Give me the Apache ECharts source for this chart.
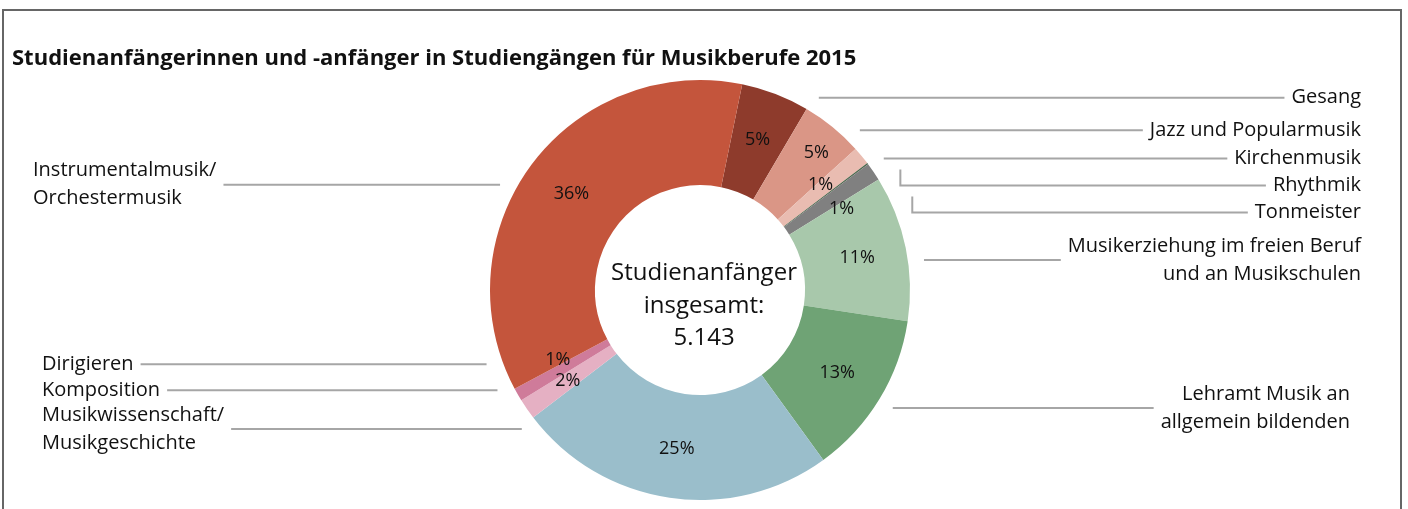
<!DOCTYPE html>
<html lang="de">
<head>
<meta charset="UTF-8">
<title>Studienanfänger Musikberufe 2015</title>
<script src="https://cdn.jsdelivr.net/npm/echarts@6/dist/echarts.min.js"></script>
<style>
    body { margin: 0; background: #fff; }
    #mybox { position: absolute; left: 0; top: 0; width: 1408px; height: 509px; }
    #rahmen { position: absolute; left: 2px; top: 9px; width: 1400px; height: 560px;
              border: 2px solid #666; box-sizing: border-box; pointer-events: none; }
</style>
</head>
<body>
<div id="mybox"></div>
<div id="rahmen"></div>
<script>
    // Daten: Studienanfänger nach Studienbereich (im Uhrzeigersinn ab Gesang)
    var kategorien = [
        'Gesang',
        'Jazz und Popularmusik',
        'Kirchenmusik',
        'Rhythmik',
        'Tonmeister',
        'Musikerziehung im freien Beruf\nund an Musikschulen',
        'Lehramt Musik an\nallgemein bildenden',
        'Musikwissenschaft/\nMusikgeschichte',
        'Komposition',
        'Dirigieren',
        'Instrumentalmusik/\nOrchestermusik'
    ];
    var anzahl = [270, 247, 72, 5, 72, 576, 650, 1265, 82, 52, 1852];
    var gesamt = '5.143';

    var farben = ['#8e3b2c', '#da9686', '#e9bcb1', '#4d684d', '#808080', '#a8c8ab',
                  '#6fa375', '#9abecb', '#e5b0c3', '#cf7b9a', '#c4553c'];

    // Feinabstimmung der Beschriftungen (wie im Original von Hand gesetzt)
    var randAbstand = { 6: 58, 7: 42, 8: 42, 9: 42, 10: 33 };
    var versatzAussen = { 5: 5, 6: 11, 8: 26, 9: 27, 10: 18 };
    var versatzInnen = { 1: [15, -13], 2: [-3, -3], 4: [9, 9], 9: [-3, -10] };

    var schrift = '"Open Sans", sans-serif';
    var mitte = [700, 290];
    var linienRadius = 226;

    var mychart = echarts.init(document.getElementById('mybox'));

    mychart.setOption({
        animation: false,
        title: {
            text: 'Studienanfängerinnen und -anfänger in Studiengängen für Musikberufe 2015',
            left: 12,
            top: 48,
            padding: 0,
            textStyle: { fontSize: 22, fontWeight: 'bold', color: '#111', fontFamily: schrift }
        },
        graphic: [{
            type: 'text',
            x: mitte[0] + 4,
            y: 306,
            style: {
                text: 'Studienanfänger\ninsgesamt:\n' + gesamt,
                textAlign: 'center',
                textVerticalAlign: 'middle',
                fontSize: 24,
                lineHeight: 32.5,
                fontFamily: schrift,
                fill: '#111'
            }
        }],
        series: [{
            // Ring mit Prozentwerten
            name: 'Anteil',
            type: 'pie',
            radius: [105, 210],
            center: mitte,
            startAngle: 78.4,
            clockwise: true,
            silent: true,
            avoidLabelOverlap: false,
            minShowLabelAngle: 0,
            itemStyle: { borderWidth: 0 },
            label: {
                position: 'inside',
                fontSize: 18,
                color: '#111',
                fontFamily: schrift,
                formatter: function (p) {
                    var w = Math.round(p.percent);
                    return w > 0 ? w + '%' : '';
                }
            },
            labelLine: { show: false },
            labelLayout: function (p) {
                var v = versatzInnen[p.dataIndex] || [0, 0];
                var r = p.labelRect;
                return {
                    x: r.x + r.width / 2 + v[0],
                    y: r.y + r.height / 2 + v[1],
                    hideOverlap: false
                };
            },
            data: kategorien.map(function (k, i) {
                return { name: k, value: anzahl[i], itemStyle: { color: farben[i] } };
            })
        }, {
            // unsichtbarer Ring nur für die Beschriftungen außen
            name: 'Beschriftung',
            type: 'pie',
            radius: [0, 200],
            center: mitte,
            left: 0,
            top: 0,
            right: 0,
            bottom: 51,
            startAngle: 78.4,
            clockwise: true,
            silent: true,
            itemStyle: { color: 'rgba(0,0,0,0)', borderWidth: 0 },
            label: {
                position: 'outside',
                alignTo: 'edge',
                edgeDistance: 47,
                distanceToLabelLine: 7,
                fontSize: 20,
                lineHeight: 28,
                color: '#111',
                fontFamily: schrift,
                formatter: '{b}'
            },
            labelLine: { show: true, length: 6, length2: 0, lineStyle: { color: '#a6a6a6', width: 2 } },
            labelLayout: function (p) {
                var pts = p.labelLinePoints;
                if (!pts) return {};
                var ende = pts[pts.length - 1];
                var y = ende[1] + (versatzAussen[p.dataIndex] || 0);
                var dy = y - mitte[1];
                var dx = Math.sqrt(Math.max(linienRadius * linienRadius - dy * dy, 0));
                var rechts = ende[0] > mitte[0];
                var x = rechts ? mitte[0] + dx : mitte[0] - dx;
                var linie = [[ende[0], y], [x, y]];
                // durch die Überlappung nach unten geschobene Beschriftung: kurzer Knick nach oben
                var verschub = ende[1] - pts[0][1];
                if (rechts && verschub > 10) {
                    linie.push([x, y - 16]);
                }
                return { y: y, labelLinePoints: linie };
            },
            data: kategorien.map(function (k, i) {
                var d = { name: k, value: anzahl[i], label: {} };
                d.label.lineHeight = k.indexOf('\n') >= 0 ? 28 : 25;
                if (randAbstand[i]) d.label.edgeDistance = randAbstand[i];
                return d;
            })
        }]
    });
</script>
</body>
</html>
